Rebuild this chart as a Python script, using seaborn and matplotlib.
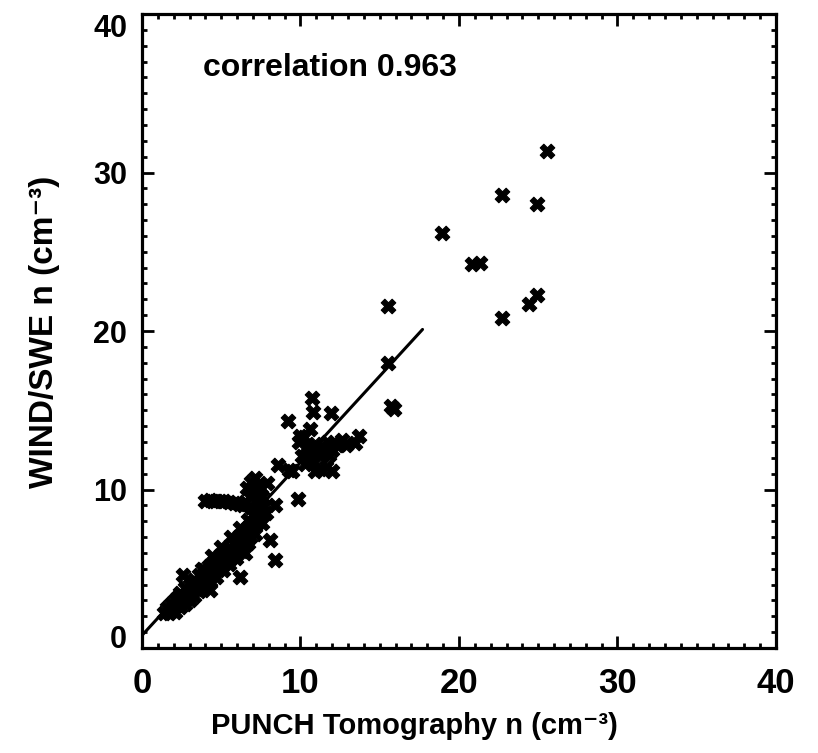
import matplotlib
matplotlib.use("Agg")
import matplotlib.pyplot as plt
from matplotlib.ticker import MultipleLocator
import seaborn as sns
import pandas as pd

# ---- data ----
band_x = [1.4, 1.6, 1.7, 1.8, 1.9, 2.0, 2.1, 2.1, 2.2, 2.3, 2.4, 2.4, 2.5, 2.6, 2.7, 2.7, 2.8, 2.9,
          3.0, 3.0, 3.1, 3.2, 3.3, 3.3, 3.4, 3.5, 3.6, 3.6, 3.7, 3.8, 3.9, 3.9, 4.0, 4.1, 4.2, 4.3,
          4.4, 4.5, 4.6, 4.7, 4.8, 4.9, 5.0, 5.1, 5.2, 5.3, 5.4, 5.5, 5.6, 5.7, 5.8, 5.9, 6.0, 6.1,
          6.2, 6.3, 6.4, 6.5, 6.6, 6.7, 6.8, 6.9, 7.0, 7.1, 5.0, 4.4, 3.8, 5.6, 6.2]
band_y = [2.2, 2.5, 2.2, 2.8, 2.4, 2.6, 3.0, 2.3, 2.7, 3.2, 2.6, 3.5, 2.9, 3.3, 2.8, 3.8, 3.1, 3.5,
          4.0, 3.0, 3.4, 3.8, 4.3, 3.3, 3.7, 4.1, 4.6, 3.6, 4.0, 4.4, 4.9, 3.9, 4.3, 4.7, 5.2, 4.2,
          4.6, 5.0, 5.5, 4.5, 4.9, 5.3, 5.8, 4.9, 5.3, 5.7, 6.2, 5.3, 5.7, 6.1, 6.6, 5.7, 6.1, 6.5,
          7.0, 6.1, 6.5, 6.9, 7.4, 6.6, 7.0, 7.5, 7.9, 7.2, 6.4, 5.8, 5.0, 7.0, 7.6]

stack_x = [6.6, 6.9, 7.1, 7.3, 7.0, 7.4, 6.8, 7.2, 7.6, 6.9, 7.3, 7.7, 7.0, 7.4, 7.8, 6.7, 7.2,
           7.6, 7.5, 6.5, 4.0, 4.3, 4.6, 4.9, 5.2, 5.5, 5.8, 6.1, 6.4]
stack_y = [10.1, 10.5, 10.7, 10.3, 9.9, 9.7, 9.5, 9.3, 9.5, 8.9, 8.8, 8.9, 8.4, 8.2, 8.5, 8.1, 7.8,
           7.9, 10.1, 9.2, 9.3, 9.35, 9.3, 9.3, 9.25, 9.2, 9.15, 9.1, 9.0]

mid_x = [9.9, 10.2, 10.4, 10.1, 10.6, 10.9, 10.3, 10.7, 11.0, 11.3, 11.5, 11.7, 12.0, 12.3, 12.6,
         11.2, 11.6, 12.0, 10.9, 9.3, 11.8, 10.6, 10.7, 10.8, 11.9, 9.2, 10.0, 13.7, 13.45, 12.5,
         12.9, 8.6, 7.9, 9.45, 9.86, 8.4, 8.08, 8.4, 6.2, 4.3, 6.5, 2.6]
mid_y = [13.0, 13.3, 12.7, 12.1, 12.3, 12.9, 11.6, 11.8, 12.5, 12.1, 12.7, 13.0, 12.5, 12.8, 13.1,
         11.3, 11.4, 11.2, 11.2, 11.25, 12.2, 13.8, 15.8, 14.9, 14.85, 14.3, 13.4, 13.4, 12.95, 12.9,
         12.8, 11.55, 10.4, 11.15, 9.4, 9.04, 6.83, 5.56, 4.5, 3.67, 6.0, 4.6]

high_x = [25.55, 22.7, 24.9, 18.9, 20.85, 21.3, 24.9, 24.4, 22.7, 15.5, 15.5, 15.7, 15.9]
high_y = [31.35, 28.6, 28.0, 26.2, 24.2, 24.3, 22.25, 21.7, 20.8, 21.6, 18.0, 15.3, 15.1]

fit_x = [0.0, 17.7]
fit_y = [0.8, 20.1]

ticks = [0, 10, 20, 30, 40]
tick_labels = ["0", "10", "20", "30", "40"]
x_title = "PUNCH Tomography n (cm\u207b\u00b3)"
y_title = "WIND/SWE n (cm\u207b\u00b3)"
annotation = "correlation 0.963"

# ---- plot ----
sns.set_style("ticks", {"xtick.direction": "in", "ytick.direction": "in",
                        "axes.edgecolor": "black", "xtick.color": "black",
                        "ytick.color": "black", "text.color": "black",
                        "axes.labelcolor": "black"})
plt.rcParams["font.family"] = ["Liberation Sans", "DejaVu Sans"]
plt.rcParams["font.weight"] = "bold"
plt.rcParams["xtick.top"] = True
plt.rcParams["ytick.right"] = True
plt.rcParams["xtick.bottom"] = True
plt.rcParams["ytick.left"] = True

df = pd.DataFrame({
    "x": band_x + stack_x + mid_x + high_x,
    "y": band_y + stack_y + mid_y + high_y,
})
fit = pd.DataFrame({"x": fit_x, "y": fit_y})

fig = plt.figure(figsize=(8.18, 7.53), dpi=100)
ax = fig.add_axes([0.1736, 0.1394, 0.775, 0.842])

sns.scatterplot(data=df, x="x", y="y", ax=ax, marker="X", s=110,
                color="black", edgecolor="black", linewidth=0.8, zorder=3)
sns.lineplot(data=fit, x="x", y="y", ax=ax, color="black", linewidth=2.2,
             sort=False, estimator=None, zorder=4)

ax.set_xlim(0, 40)
ax.set_ylim(0, 40)

fam = ["Liberation Sans", "DejaVu Sans"]
ax.set_xticks(ticks, labels=tick_labels, fontsize=25, fontweight="bold", family=fam)
ax.set_yticks(ticks, labels=tick_labels, fontsize=22, fontweight="bold", family=fam)
ax.xaxis.set_minor_locator(MultipleLocator(1))
ax.yaxis.set_minor_locator(MultipleLocator(1))
ax.tick_params(which="both", direction="in", top=True, right=True, bottom=True, left=True,
               width=2, color="black", labelcolor="black")
ax.tick_params(which="major", length=8.6)
ax.tick_params(which="minor", length=3.6)
ax.tick_params(axis="x", which="major", pad=14)
ax.tick_params(axis="y", which="major", pad=10.8)
ax.set_axisbelow(False)

ylabs = ax.get_yticklabels()
ylabs[0].set_va("baseline")
ylabs[-1].set_va("top")

for sp in ax.spines.values():
    sp.set_visible(True)
    sp.set_linewidth(2.3)
    sp.set_color("black")

ax.set_xlabel(x_title, fontsize=21, fontweight="bold", family=fam, color="black")
ax.set_ylabel(y_title, fontsize=24, fontweight="bold", family=fam, color="black")
ax.xaxis.set_label_coords(0.43, -0.101)
ax.yaxis.set_label_coords(-0.129, 0.498)

ax.text(3.85, 36.07, annotation, fontsize=23, fontweight="bold", ha="left", va="baseline",
        family=fam, color="black")

fig.savefig("out.png", dpi=100)
